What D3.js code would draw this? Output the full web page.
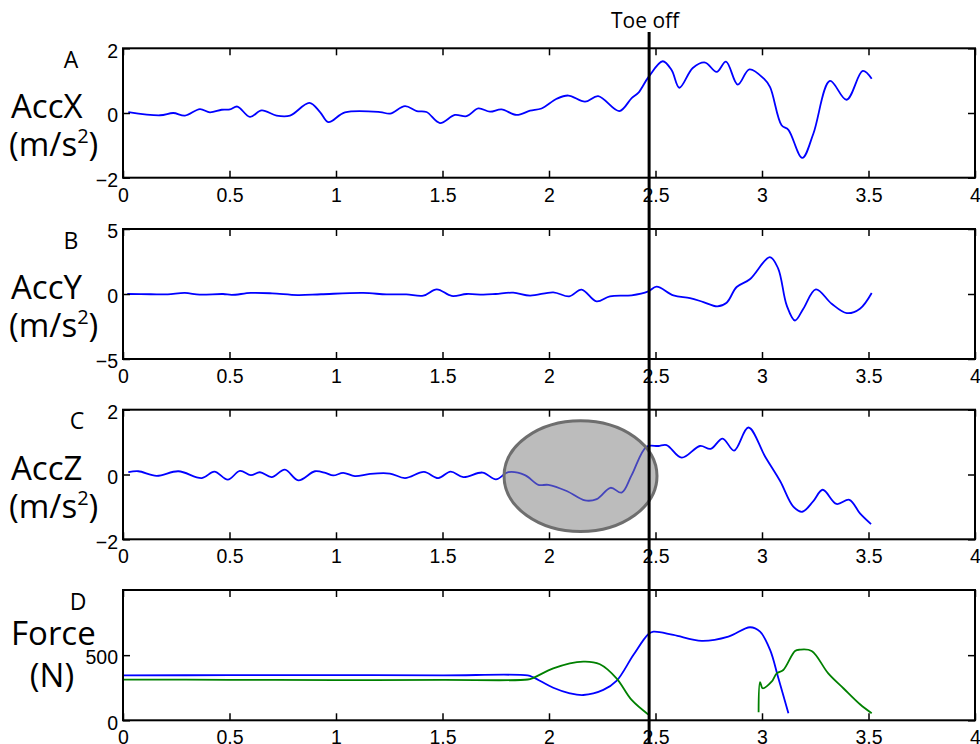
<!DOCTYPE html>
<html><head><meta charset="utf-8">
<script src="https://cdn.jsdelivr.net/npm/d3@7"></script>
<style>body{margin:0;background:#fff}svg{display:block}</style>
</head><body><svg id="c" width="980" height="744"></svg>
<script>
// ---------- DATA ----------
const xTicks = [0,0.5,1,1.5,2,2.5,3,3.5,4];
const toeOff = 2.47;
const panelLetters = ["A","B","C","D"];
const panelNames = ["AccX","AccY","AccZ","Force"];
const panelUnits = ["(m/s","(m/s","(m/s","(N)"];
const yDomains = [[-2,2],[-5,5],[-2,2],[0,1000]];
const yTicksList = [[-2,0,2],[-5,0,5],[-2,0,2],[0,500]];

const tA = [0.025,0.174,0.236,0.291,0.361,0.408,0.463,0.502,0.537,0.596,0.651,0.721,0.784,0.875,0.925,0.964,1.042,1.207,1.254,1.324,1.379,1.425,1.488,1.558,1.613,1.668,1.723,1.777,1.848,1.911,1.965,2.036,2.091,2.169,2.231,2.330,2.388,2.419,2.466,2.534,2.576,2.612,2.675,2.733,2.787,2.831,2.886,2.941,3.009,3.038,3.092,3.124,3.189,3.241,3.319,3.397,3.473,3.515];
const vA = [0.03,-0.07,0,-0.08,0.12,0.02,0.10,0.11,0.20,-0.12,0.08,-0.08,-0.08,0.31,0.03,-0.28,0.02,0.03,-0.02,0.21,0.06,0.03,-0.31,-0.06,-0.10,0.14,0.04,0.11,-0.06,0.07,0.14,0.44,0.54,0.35,0.52,0.06,0.46,0.62,1.10,1.60,1.32,0.78,1.39,1.56,1.27,1.59,0.88,1.35,1.06,0.80,-0.38,-0.52,-1.39,-0.64,0.99,0.41,1.30,1.06];

const tB = [0.02,0.13,0.21,0.29,0.36,0.47,0.51,0.60,0.70,0.82,0.93,1.128,1.237,1.33,1.41,1.473,1.543,1.613,1.692,1.75,1.832,1.911,2.02,2.095,2.153,2.223,2.286,2.388,2.466,2.505,2.584,2.662,2.725,2.79,2.834,2.881,2.943,3.037,3.076,3.116,3.155,3.194,3.253,3.327,3.398,3.46,3.515];
const vB = [0,-0.02,-0.03,0.08,-0.05,0,-0.07,0.08,0.05,-0.08,-0.02,0.08,-0.03,-0.03,-0.13,0.36,-0.15,0,-0.05,0,0.10,-0.13,0.13,-0.18,0.34,-0.57,-0.18,-0.10,0.20,0.57,-0.10,-0.31,-0.62,-0.95,-0.67,0.54,1.13,2.84,1.96,-0.88,-2.04,-1.13,0.36,-0.75,-1.47,-1.13,0.08];

const tC = [0.025,0.072,0.158,0.26,0.37,0.429,0.492,0.549,0.60,0.643,0.698,0.76,0.823,0.901,0.95,0.987,1.034,1.089,1.16,1.253,1.324,1.413,1.48,1.538,1.598,1.688,1.751,1.809,1.887,1.95,1.997,2.083,2.169,2.224,2.289,2.341,2.388,2.458,2.513,2.552,2.623,2.709,2.759,2.815,2.869,2.936,3.015,3.085,3.147,3.189,3.241,3.285,3.35,3.41,3.46,3.512];
const vC = [0.07,0.10,-0.04,0.10,-0.11,0.09,-0.16,0.11,-0.02,0.07,-0.08,0.15,-0.18,0.10,0.05,-0.03,0.05,-0.05,0.02,0.03,-0.11,0.08,-0.11,0.09,-0.08,0.06,-0.15,0.07,-0.02,-0.32,-0.32,-0.51,-0.80,-0.76,-0.41,-0.56,-0.02,0.86,0.88,0.91,0.52,0.88,0.79,1.11,0.74,1.45,0.55,-0.20,-0.99,-1.15,-0.82,-0.47,-0.91,-0.78,-1.20,-1.53];

const tDBlue = [0,0.5,1.0,1.5,1.9,1.926,2.02,2.098,2.161,2.255,2.317,2.396,2.466,2.49,2.584,2.717,2.842,2.944,2.991,3.038,3.077,3.124];
const vDBlue = [345,346,347,345,344,330,250,207,194,233,302,501,660,680,655,609,642,714,680,540,322,54];
const tDGreen1 = [0,0.5,1.0,1.5,1.9,1.926,2.02,2.161,2.239,2.317,2.388,2.466];
const vDGreen1 = [312,311,308,310,313,325,399,450,430,322,156,45];
const tDGreen2 = [2.984,2.991,3.003,3.045,3.069,3.10,3.155,3.178,3.233,3.311,3.382,3.46,3.515];
const vDGreen2 = [61,292,246,296,360,386,532,542,532,360,246,123,54];

const ellipseC = {t:2.148, v:-0.05, rt:0.359, rv:1.71};

// ---------- LAYOUT ----------
const svg = d3.select("#c");
const x = d3.scaleLinear().domain([0,4]).range([123,975]);
const frames = [[48.3,177.7],[229,359],[409.7,539.3],[590,720.3]];
const tickFont = "'Liberation Sans', Arial, sans-serif";
const labFont = "'Open Sans', 'Noto Sans', sans-serif";
const fmt = d3.format("d");

const zip = (ts, vs) => ts.map((t,i)=>[t,vs[i]]);
const seriesByPanel = [
  [{d:zip(tA,vA),c:"#0000ff"}],
  [{d:zip(tB,vB),c:"#0000ff"}],
  [{d:zip(tC,vC),c:"#0000ff"}],
  [{d:zip(tDBlue,vDBlue),c:"#0000ff"},{d:zip(tDGreen1,vDGreen1),c:"#008000"},{d:zip(tDGreen2,vDGreen2),c:"#008000"}]
];

frames.forEach(([top,bot],i)=>{
  const y = d3.scaleLinear().domain(yDomains[i]).range([bot,top]);
  const g = svg.append("g");
  const line = d3.line().x(d=>x(d[0])).y(d=>y(d[1])).curve(d3.curveCatmullRom.alpha(0.5));
  seriesByPanel[i].forEach(s=>{
    g.append("path").attr("d",line(s.d)).attr("fill","none").attr("stroke",s.c).attr("stroke-width",1.8);
  });
  if(i===2){
    g.append("ellipse")
      .attr("cx",x(ellipseC.t)).attr("cy",y(ellipseC.v))
      .attr("rx",x(ellipseC.t+ellipseC.rt)-x(ellipseC.t))
      .attr("ry",y(ellipseC.v)-y(ellipseC.v+ellipseC.rv))
      .attr("fill","#808080").attr("fill-opacity",0.53)
      .attr("stroke","#6e6e6e").attr("stroke-width",3);
  }
  const bAx = g.append("g").attr("transform",`translate(0,${bot})`)
    .call(d3.axisBottom(x).tickValues(xTicks).tickSizeInner(-7).tickSizeOuter(0).tickPadding(10).tickFormat(d3.format("")));
  const tAx = g.append("g").attr("transform",`translate(0,${top})`)
    .call(d3.axisTop(x).tickValues(xTicks).tickSizeInner(-7).tickSizeOuter(0).tickFormat(""));
  const lAx = g.append("g").attr("transform",`translate(${x(0)},0)`)
    .call(d3.axisLeft(y).tickValues(yTicksList[i]).tickSizeInner(-7).tickSizeOuter(0).tickPadding(5).tickFormat(fmt));
  const rAx = g.append("g").attr("transform",`translate(${x(4)},0)`)
    .call(d3.axisRight(y).tickValues(yTicksList[i]).tickSizeInner(-7).tickSizeOuter(0).tickFormat(""));
  [bAx,tAx,lAx,rAx].forEach(a=>{
    a.select(".domain").remove();
    a.selectAll("line").attr("stroke","#000").attr("stroke-width",1.5);
    a.selectAll("text").attr("font-family",tickFont).attr("font-size",19.5).attr("fill","#000");
  });
  lAx.selectAll("text").attr("dy","0.45em");
  g.append("rect").attr("x",x(0)).attr("y",top).attr("width",x(4)-x(0)).attr("height",bot-top)
    .attr("fill","none").attr("stroke","#000").attr("stroke-width",2);
  // labels
  const letterX = [71,71,77,78][i];
  g.append("text").attr("x",letterX).attr("y",top+19.5).attr("text-anchor","middle")
    .attr("font-family",labFont).attr("font-size",23).text(panelLetters[i]);
  if(i<3){
    g.append("text").attr("x",11).attr("y",top+70).attr("font-family",labFont).attr("font-size",33).text(panelNames[i]);
    const u = g.append("text").attr("x",9).attr("y",top+108).attr("font-family",labFont).attr("font-size",33);
    u.append("tspan").text(panelUnits[i]);
    u.append("tspan").attr("font-size",20).attr("dy",-13).text("2");
    u.append("tspan").attr("dy",13).text(")");
  } else {
    g.append("text").attr("x",11).attr("y",top+55).attr("font-family",labFont).attr("font-size",33).text(panelNames[i]);
    g.append("text").attr("x",52).attr("y",top+97).attr("text-anchor","middle").attr("font-family",labFont).attr("font-size",33).text(panelUnits[i]);
  }
});

svg.append("line").attr("x1",x(toeOff)).attr("x2",x(toeOff)).attr("y1",32).attr("y2",744)
  .attr("stroke","#000").attr("stroke-width",3);
svg.append("text").attr("x",x(toeOff)-4).attr("y",28).attr("text-anchor","middle")
  .attr("font-family",labFont).attr("font-size",21).text("Toe off");
</script></body></html>
